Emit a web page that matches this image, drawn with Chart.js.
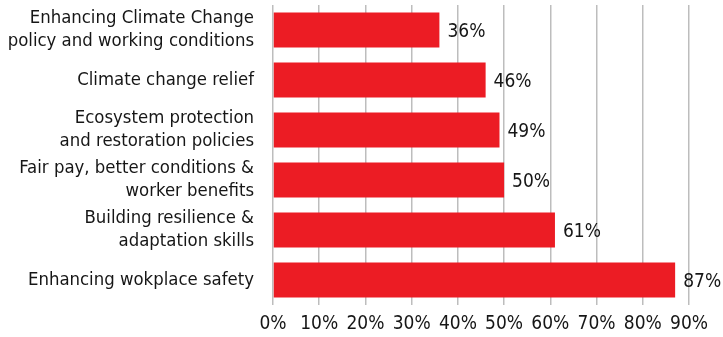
<!DOCTYPE html>
<html>
<head>
<meta charset="utf-8">
<script src="https://cdn.jsdelivr.net/npm/chart.js@4/dist/chart.umd.min.js"></script>
<style>
  html, body { margin: 0; padding: 0; background: #ffffff; }
  #wrap { width: 723px; height: 337px; position: relative; }
</style>
</head>
<body>
<div id="wrap"><canvas id="chart"></canvas></div>
<script>
// Survey priorities, share of respondents (%)
const categories = [
  ["Enhancing Climate Change", "policy and working conditions"],
  "Climate change relief",
  ["Ecosystem protection", "and restoration policies"],
  ["Fair pay, better conditions &", "worker benefits"],
  ["Building resilience &", "adaptation skills"],
  "Enhancing wokplace safety"
];
const shares = [36, 46, 49, 50, 61, 87];
const tickValues = [0, 10, 20, 30, 40, 50, 60, 70, 80, 90];

const FONT = '"DejaVu Sans Condensed", "DejaVu Sans", sans-serif';
const INK = '#161616';

// Writes the percentage just past the end of each bar
const valueLabels = {
  id: 'valueLabels',
  afterDatasetsDraw(chart) {
    const ctx = chart.ctx;
    const meta = chart.getDatasetMeta(0);
    ctx.save();
    ctx.font = '19px ' + FONT;
    ctx.fillStyle = INK;
    ctx.textAlign = 'left';
    ctx.textBaseline = 'middle';
    meta.data.forEach((bar, i) => {
      ctx.fillText(shares[i] + '%', bar.x + 8, bar.y + 2);
    });
    ctx.restore();
  }
};

new Chart(document.getElementById('chart'), {
  type: 'bar',
  data: {
    labels: categories,
    datasets: [{
      data: shares,
      backgroundColor: '#ec1c24',
      borderWidth: 0,
      categoryPercentage: 1,
      barPercentage: 0.7
    }]
  },
  options: {
    indexAxis: 'y',
    responsive: true,
    maintainAspectRatio: false,
    animation: false,
    layout: { padding: { top: 5, right: 34, left: 0, bottom: 0 } },
    plugins: { legend: { display: false }, tooltip: { enabled: false } },
    scales: {
      x: {
        min: 0,
        max: 90,
        afterBuildTicks(scale) { scale.ticks = tickValues.map(v => ({ value: v })); },
        afterFit(scale) {
          scale.height = 32;
          scale.paddingLeft = 0;
          scale.paddingRight = 0;
        },
        grid: { color: '#bdbdbd', lineWidth: 1.5, drawTicks: false },
        border: { display: false },
        ticks: {
          padding: 8,
          color: INK,
          font: { family: FONT, size: 19 },
          callback: v => v + '%'
        }
      },
      y: {
        afterFit(scale) {
          scale.width = 273;
          scale.paddingTop = 0;
          scale.paddingBottom = 0;
        },
        grid: { display: false, drawTicks: false },
        border: { display: false },
        ticks: {
          padding: 19,
          color: INK,
          font: { family: FONT, size: 18.4, lineHeight: 1.25 }
        }
      }
    }
  },
  plugins: [valueLabels]
});
</script>
</body>
</html>
